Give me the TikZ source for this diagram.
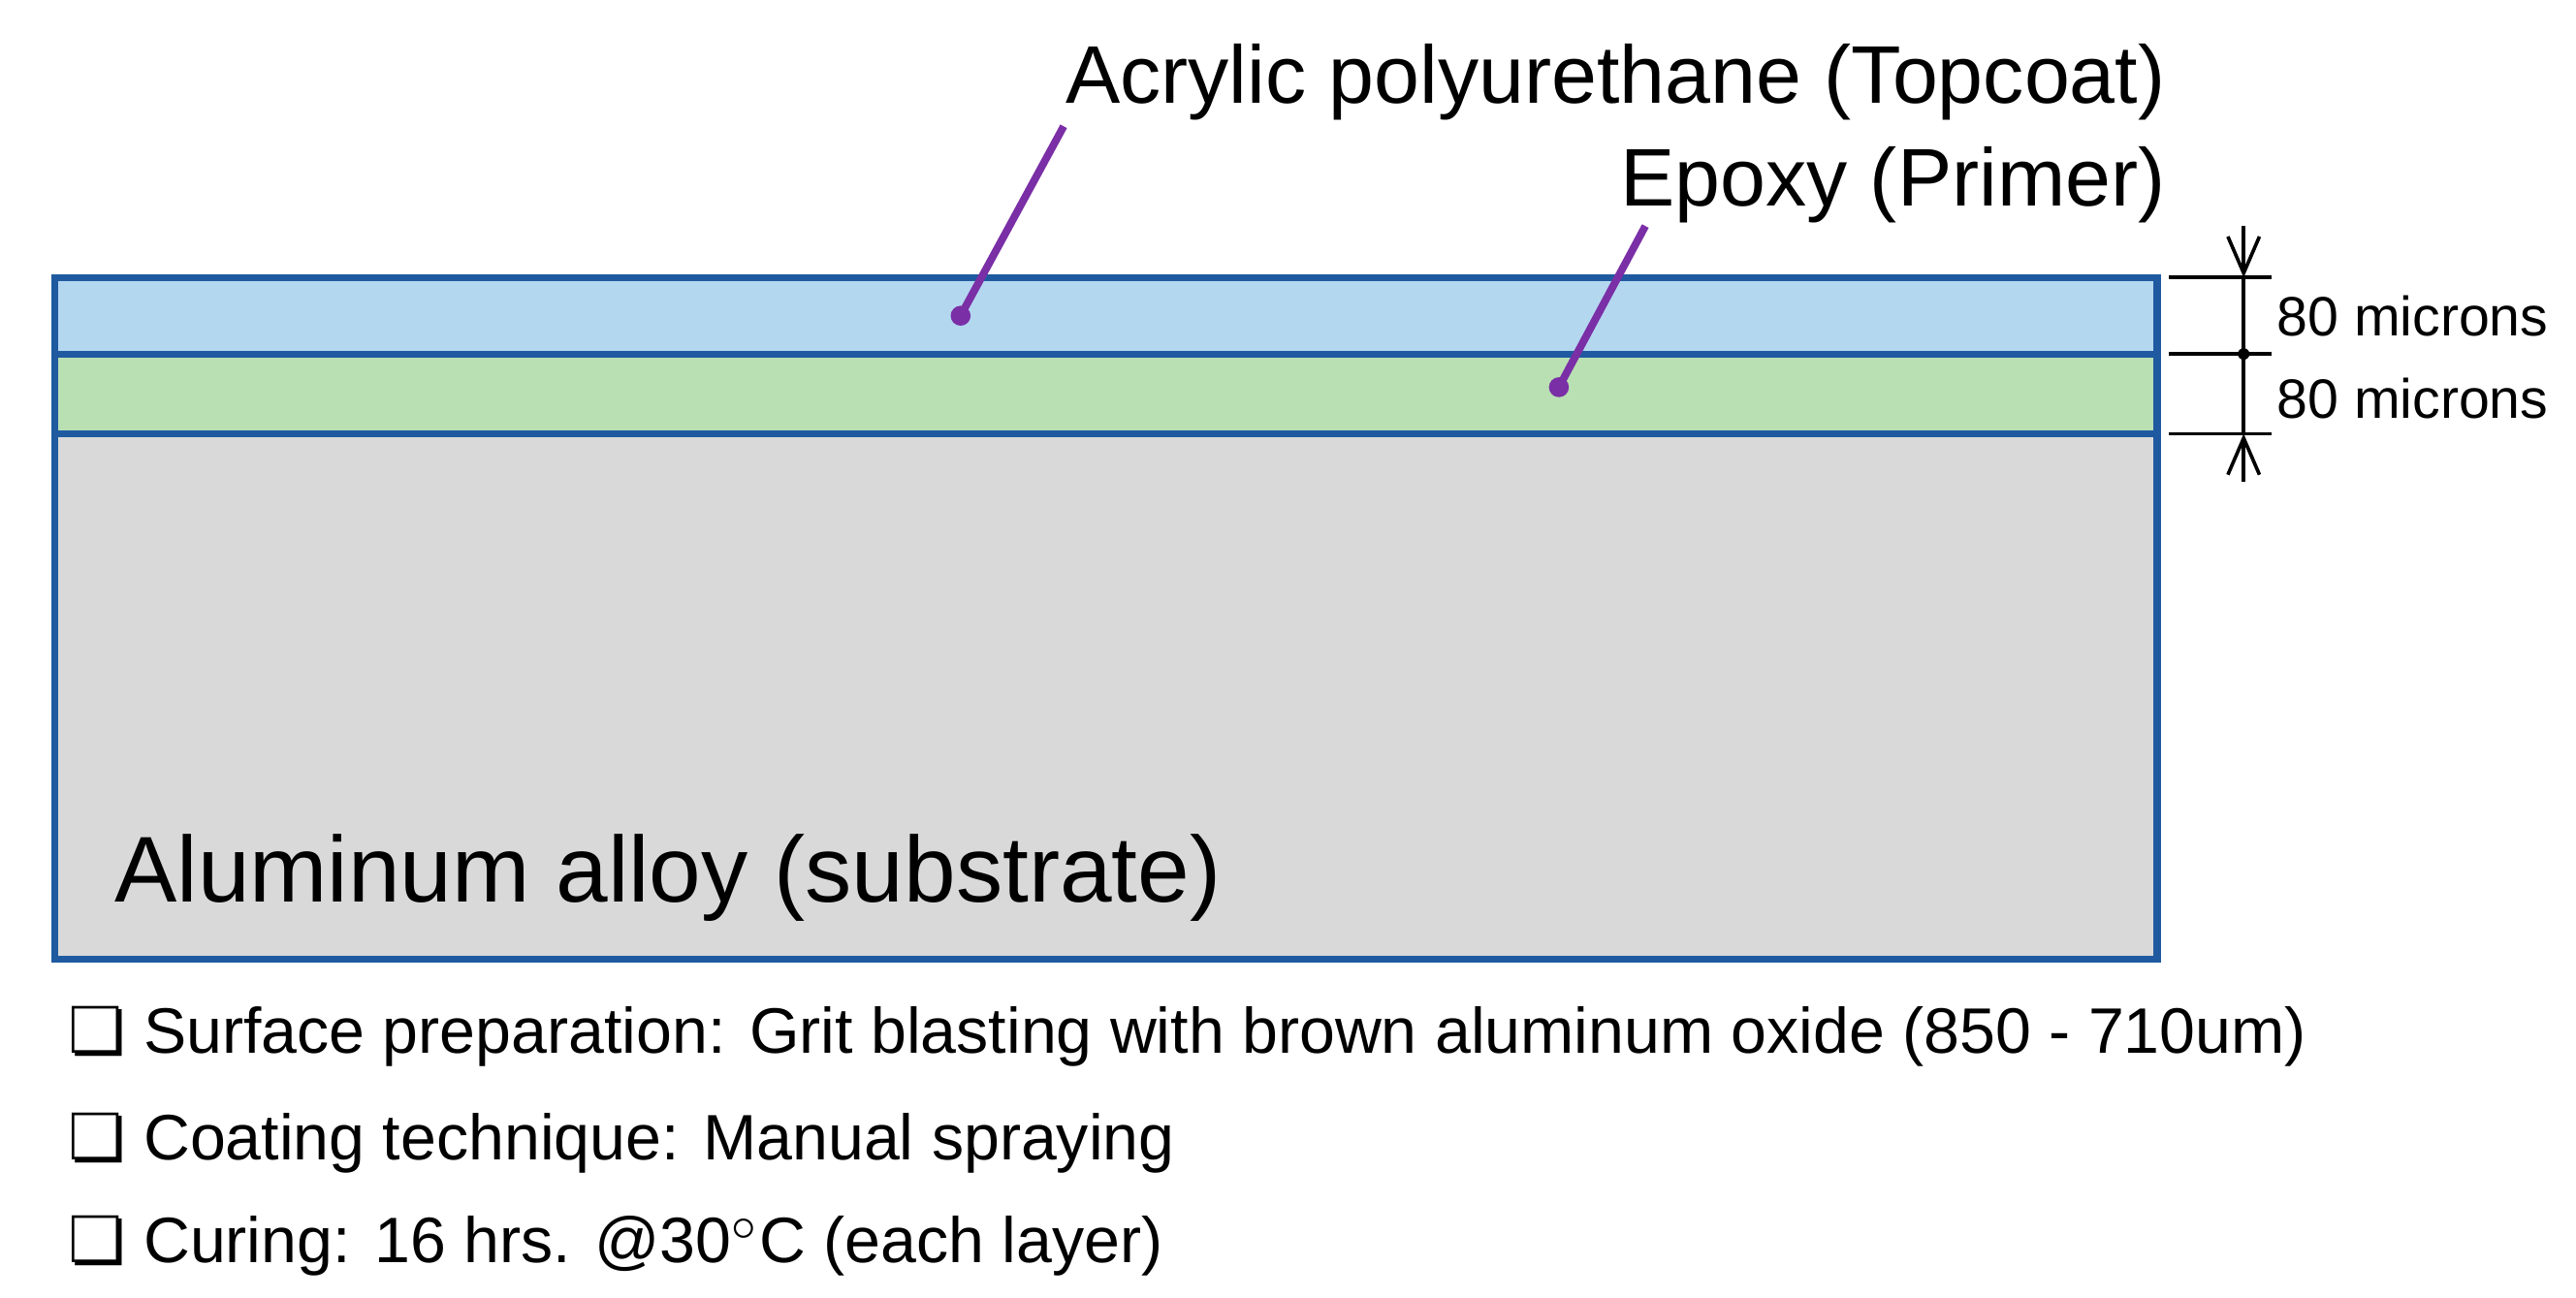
\documentclass[tikz,border=0pt]{standalone}
\usepackage{fontspec}
\setmainfont{Liberation Sans}
\newfontfamily\symfont{DejaVu Sans}
\usetikzlibrary{positioning}
\usetikzlibrary{arrows.meta}
\definecolor{topblue}{HTML}{B4D7F0}
\definecolor{primegreen}{HTML}{B9E0B3}
\definecolor{subgray}{HTML}{D9D9D9}
\definecolor{edgeblue}{HTML}{1F5AA0}
\definecolor{leadpurple}{HTML}{7A2FA6}
\tikzset{
    layer/.style = {draw = edgeblue, line width = 1.2pt},
    leader/.style = {leadpurple, line width = 1.3pt},
    dimtext/.style = {anchor = west, font = \fontsize{9.5}{11}\selectfont, inner sep = 0pt},
    itemtext/.style = {anchor = west, font = \fontsize{11}{13}\selectfont, inner sep = 0pt},
}
\begin{document}
\begin{tikzpicture}[x = 0.1mm, y = -0.1mm, black, line width = 0.6pt]

    \useasboundingbox (0,0) rectangle (1550,781);

    % layers
    \draw[layer, fill = subgray] (33,261) rectangle (1298,577);
    \draw[layer, fill = primegreen] (33,213) rectangle (1298,261);
    \draw[layer, fill = topblue] (33,167) rectangle (1298,213);

    \node (alloy) [anchor = base west, inner sep = 0pt, font = \fontsize{16}{18}\selectfont] at (68,543) {Aluminum alloy (substrate)};

    % labels and leaders
    \node (topcoat) [anchor = base east, inner sep = 0pt, font = \fontsize{14}{16}\selectfont] at (1304,62) {Acrylic polyurethane (Topcoat)};
    \node (primer) [anchor = base east, inner sep = 0pt, font = \fontsize{14}{16}\selectfont] at (1304,124) {Epoxy (Primer)};

    \coordinate (T1) at (640,76);
    \coordinate (T2) at (578,190);
    \coordinate (P1) at (990,136);
    \coordinate (P2) at (938,233);
    \draw[leader] (T1) -- (T2);
    \draw[leader] (P1) -- (P2);
    \fill[leadpurple] (T2) circle (6);
    \fill[leadpurple] (P2) circle (6);

    % dimensions
    \foreach \y in {167, 213, 261}
        \draw (1305,\y) -- (1367,\y);
    \coordinate (Dtop) at (1350,167);
    \coordinate (Dmid) at (1350,213);
    \coordinate (Dbot) at (1350,261);
    \draw (Dtop) -- (Dbot);
    \fill (Dmid) circle (3.5);
    \draw[->, >={Straight Barb[length = 2.2mm, width = 1.9mm]}] (1350,136) -- (Dtop);
    \draw[->, >={Straight Barb[length = 2.2mm, width = 1.9mm]}] (1350,290) -- (Dbot);

    \node (dimA) [dimtext] at (1369,190) {80 microns};
    \node (dimB) [dimtext] at (1369,240) {80 microns};

    % notes
    \node (note1) [itemtext] at (40,624) {{\symfont ❏} Surface preparation: Grit blasting with brown aluminum oxide (850 - 710um)};
    \node (note2) [itemtext] at (40,688) {{\symfont ❏} Coating technique: Manual spraying};
    \node (note3) [itemtext] at (40,750) {{\symfont ❏} Curing: 16 hrs. @30$^\circ$C (each layer)};

\end{tikzpicture}
\end{document}
